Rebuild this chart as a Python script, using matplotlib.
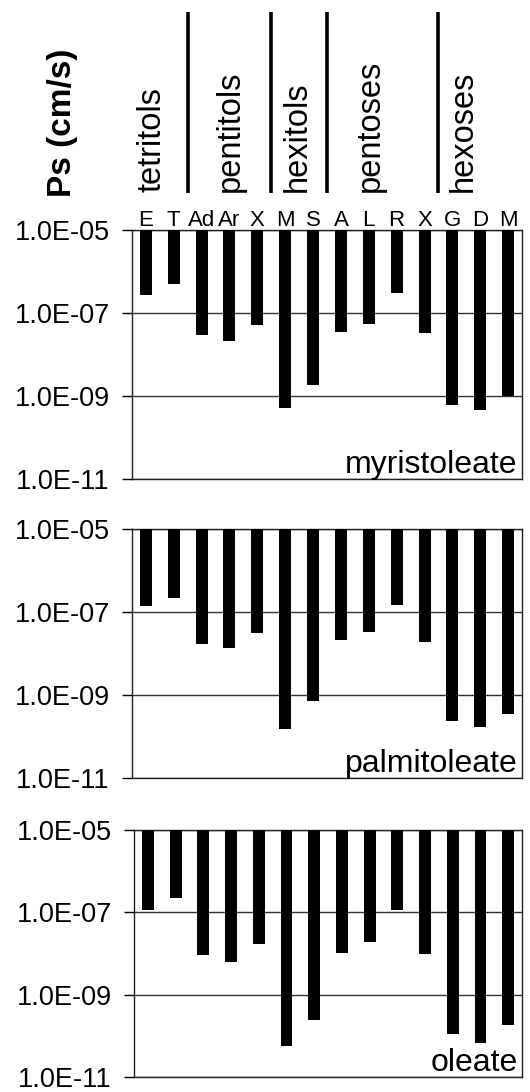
import numpy as np
import matplotlib
matplotlib.use("Agg")
import matplotlib.pyplot as plt
from matplotlib.ticker import FixedLocator, FuncFormatter, NullLocator

plt.rcParams['font.family'] = ['Liberation Sans', 'DejaVu Sans']

# data: log10 of permeability
compounds = ['E', 'T', 'Ad', 'Ar', 'X', 'M', 'S', 'A', 'L', 'R', 'X', 'G', 'D', 'M']
groups = ['tetritols', 'pentitols', 'hexitols', 'pentoses', 'hexoses']
group_sizes = [2, 3, 2, 4, 3]
panel_names = ['myristoleate', 'palmitoleate', 'oleate']

log_myristoleate = [-6.56, -6.30, -7.54, -7.68, -7.30, -9.30, -8.74,
                    -7.46, -7.26, -6.52, -7.48, -9.22, -9.34, -9.00]
log_palmitoleate = [-6.86, -6.65, -7.76, -7.86, -7.51, -9.81, -9.14,
                    -7.67, -7.49, -6.82, -7.71, -9.62, -9.77, -9.46]
log_oleate = [-6.94, -6.66, -8.04, -8.21, -7.76, -10.24, -9.60,
              -7.98, -7.71, -6.94, -8.02, -9.96, -10.16, -9.74]

y_top = 1e-5
y_bottom = 1e-11
yticks = [1e-5, 1e-7, 1e-9, 1e-11]

fig = plt.figure(figsize=(5.30, 10.92), dpi=100)

# axes boxes in figure fractions [left, bottom, width, height]
boxes = [
    [0.249, 0.5614, 0.736, 0.228],
    [0.249, 0.2875, 0.736, 0.228],
    [0.253, 0.0135, 0.732, 0.2265],
]

x = np.arange(len(compounds))
all_logs = [log_myristoleate, log_palmitoleate, log_oleate]
axes = []
for box, logs, name in zip(boxes, all_logs, panel_names):
    ax = fig.add_axes(box)
    vals = 10.0 ** np.array(logs)
    ax.set_yscale('log')
    ax.set_ylim(y_bottom, y_top)
    ax.set_xlim(-0.5, len(compounds) - 0.5)
    ax.bar(x, y_top - vals, bottom=vals, width=0.43, color='black', zorder=3)

    ax.yaxis.set_major_locator(FixedLocator(yticks))
    ax.yaxis.set_minor_locator(NullLocator())
    ax.yaxis.set_major_formatter(FuncFormatter(lambda v, p: f"{v:.1E}"))
    ax.tick_params(axis='y', direction='out', length=7, width=1, pad=9,
                   labelsize=19.5)
    ax.set_xticks([])
    ax.grid(axis='y', color='#333333', linewidth=1, zorder=1)
    for s in ax.spines.values():
        s.set_linewidth(1)
        s.set_color('#222222')

    ax.text(0.988, 0.025, name, transform=ax.transAxes, ha='right',
            va='baseline', fontsize=23)
    axes.append(ax)

# category labels and group headers above the first panel
top_ax = axes[0]
trans = top_ax.get_xaxis_transform()
for xi, lab in zip(x, compounds):
    top_ax.text(xi, 1.014, lab, transform=trans, ha='center', va='baseline',
                fontsize=16, family=['Liberation Sans Narrow', 'Liberation Sans'])

bounds = np.cumsum(group_sizes)[:-1] - 0.5
for b in bounds:
    top_ax.plot([b, b], [1.15, 1.875], transform=trans, color='black',
                linewidth=2.6, clip_on=False, solid_capstyle='butt')

group_label_x = [0.22, 3.02, 5.42, 8.04, 11.38]
for gx, g in zip(group_label_x, groups):
    top_ax.text(gx, 1.152, g, transform=trans, rotation=90, ha='center',
                va='bottom', fontsize=23.5)

fig.text(0.117, 0.8196, 'Ps (cm/s)', rotation=90, ha='center', va='bottom',
         fontsize=24, fontweight='bold')

plt.savefig('out.png', dpi=100)
